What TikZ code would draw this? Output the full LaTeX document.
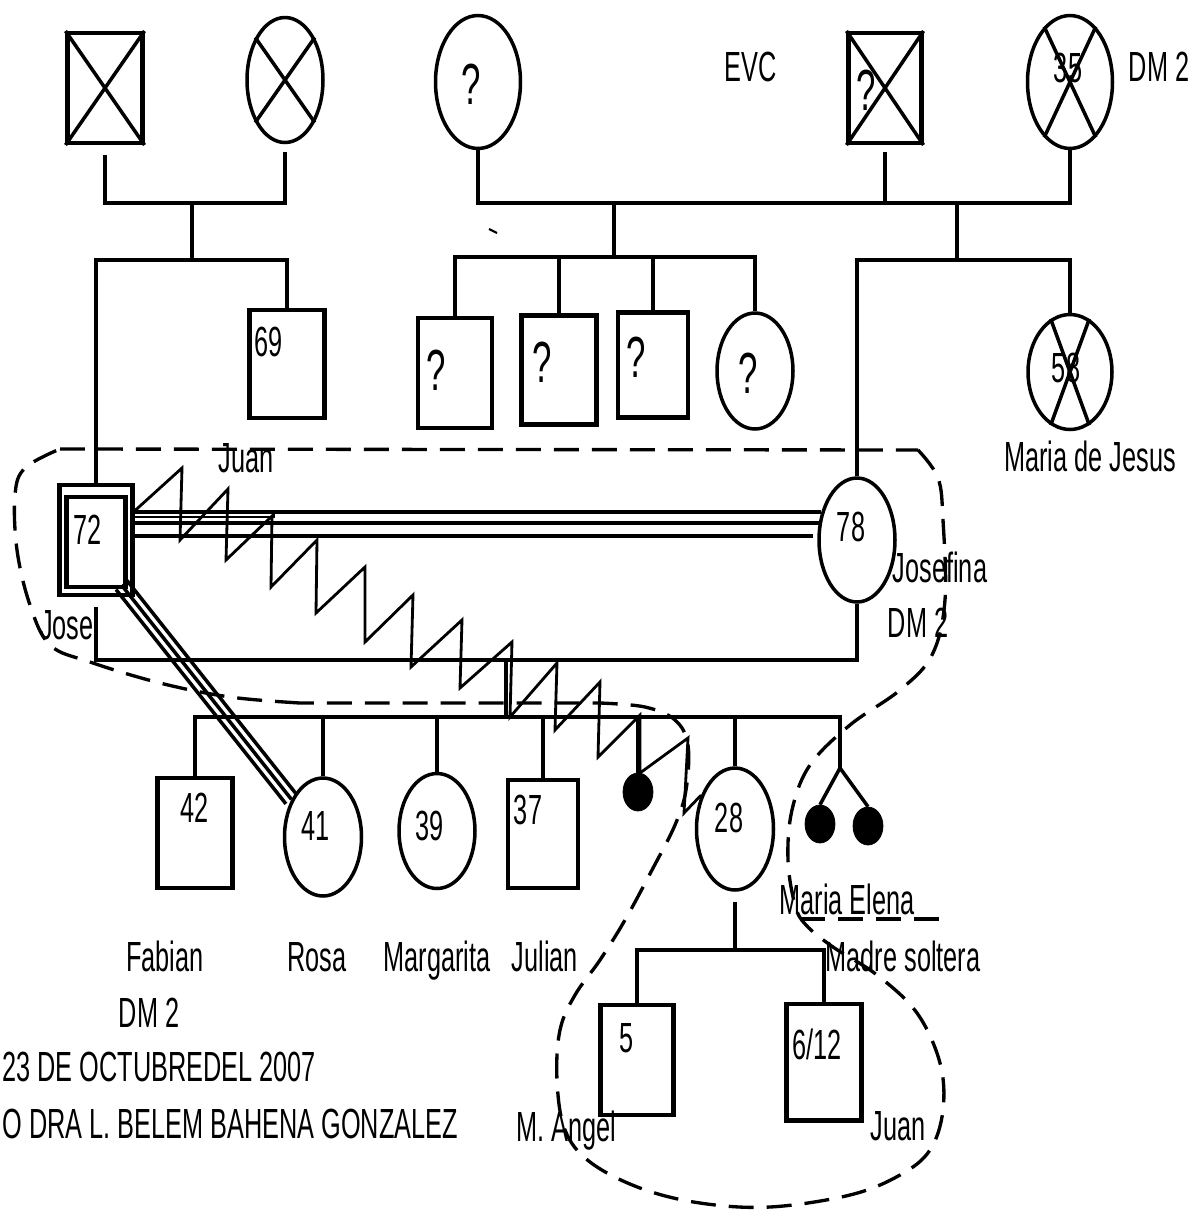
\documentclass[tikz,border=0pt]{standalone}
\usepackage{fontspec}
\setmainfont{Liberation Sans}[FakeStretch=0.6]
\usetikzlibrary{shapes.geometric}

\tikzset{
  male/.style={draw, rectangle, line width=2.3pt, inner sep=0pt},
  female/.style={draw, ellipse, line width=2pt, inner sep=0pt},
  lost/.style={draw, ellipse, fill=black, inner sep=0pt, minimum width=0.6cm, minimum height=0.76cm},
  rel/.style={line width=2pt},
  lbl/.style={font=\fontsize{24}{28}\selectfont, inner sep=0pt, text height=17pt, text depth=0pt},
  unk/.style={font=\fontsize{33}{38}\selectfont, inner sep=0pt, text height=23pt, text depth=0pt},
  home/.style={line width=1.9pt, dash pattern=on 0.5cm off 0.26cm}
}

\begin{document}
\begin{tikzpicture}[x=0.02cm, y=-0.02cm]
                \useasboundingbox (0,0) rectangle (1195,1218);
                \fill[white] (0,0) rectangle (1195,1218);

                % Grandparents
                \node[male, minimum width=1.5cm, minimum height=2.2cm] (pgf) at (105,88) {};
                \node[female, minimum width=1.52cm, minimum height=2.5cm] (pgm) at (285,80) {};
                \node[female, minimum width=1.7cm, minimum height=2.66cm] (mgm) at (478,82) {};
                \node[male, minimum width=1.46cm, minimum height=2.2cm] (mgf) at (885,88) {};
                \node[female, minimum width=1.7cm, minimum height=2.66cm] (ggm) at (1070,82) {};
                \draw[rel] (pgf.north west) -- (pgf.south east) (pgf.north east) -- (pgf.south west);
                \draw[rel] (pgm.125) -- (pgm.-55) (pgm.55) -- (pgm.-125);
                \draw[rel] (mgf.north west) -- (mgf.south east) (mgf.north east) -- (mgf.south west);
                \draw[rel] (ggm.115) -- (ggm.-65) (ggm.65) -- (ggm.-115);
                \node[unk] (q-mgm) at (471,84) {?};
                \node[unk] (q-mgf) at (866,90) {?};
                \node[lbl] (age-ggm) at (1068,68) {35};
                \node[lbl] (evc) at (751,67) {EVC};
                \node[lbl] (dm-ggm) at (1159,67) {DM 2};

                % Parents generation
                \node[male, minimum width=1.5cm, minimum height=2.16cm] (uncle) at (287,364) {};
                \node[male, minimum width=1.48cm, minimum height=2.2cm] (q1) at (455,373) {};
                \node[male, minimum width=1.5cm, minimum height=2.18cm] (q2) at (559,370) {};
                \node[male, minimum width=1.4cm, minimum height=2.1cm] (q3) at (653,365) {};
                \node[female, minimum width=1.52cm, minimum height=2.32cm] (q4) at (755,371) {};
                \node[female, minimum width=1.68cm, minimum height=2.3cm] (mdj) at (1070,372) {};
                \draw[rel] (mdj.110) -- (mdj.-70) (mdj.70) -- (mdj.-110);
                \node[lbl] (age-uncle) at (269,342) {69};
                \node[lbl] (n-uncle) at (246,458) {Juan};
                \node[unk] (q-q1) at (436,370) {?};
                \node[unk] (q-q2) at (542,362) {?};
                \node[unk] (q-q3) at (636,357) {?};
                \node[unk] (q-q4) at (748,373) {?};
                \node[lbl] (age-mdj) at (1066,368) {58};
                \node[lbl] (n-mdj) at (1090,457) {Maria de Jesus};

                % Jose and Josefina
                \node[male, minimum width=1.46cm, minimum height=2.2cm] (jose) at (96,540) {};
                \node[male, minimum width=1.18cm, minimum height=1.8cm] (josein) at (96,542) {};
                \node[female, minimum width=1.52cm, minimum height=2.48cm] (josefina) at (857,540) {};
                \node[lbl] (age-jose) at (88,530) {72};
                \node[lbl] (n-jose) at (67,625) {Jose};
                \node[lbl] (age-josefina) at (851,527) {78};
                \node[lbl] (n-josefina) at (940,568) {Josefina};
                \node[lbl] (dm-josefina) at (918,623) {DM 2};

                % Children
                \node[male, minimum width=1.5cm, minimum height=2.2cm] (fabian) at (195,833) {};
                \node[female, minimum width=1.54cm, minimum height=2.36cm] (rosa) at (323,837) {};
                \node[female, minimum width=1.52cm, minimum height=2.3cm] (margarita) at (437,831) {};
                \node[male, minimum width=1.4cm, minimum height=2.16cm] (julian) at (543,834) {};
                \node[lost] (baby) at (638,792) {};
                \node[female, minimum width=1.54cm, minimum height=2.44cm] (mariaelena) at (735,829) {};
                \node[lost] (twinA) at (820,824) {};
                \node[lost] (twinB) at (868,826) {};
                \node[lbl] (age-fabian) at (195,808) {42};
                \node[lbl] (age-rosa) at (316,826) {41};
                \node[lbl] (age-margarita) at (430,826) {39};
                \node[lbl] (age-julian) at (528,810) {37};
                \node[lbl] (age-mariaelena) at (729,818) {28};
                \node[lbl] (n-fabian) at (165,957) {Fabian};
                \node[lbl] (dm-fabian) at (149,1013) {DM 2};
                \node[lbl] (n-rosa) at (317,957) {Rosa};
                \node[lbl] (n-margarita) at (437,957) {Margarita};
                \node[lbl] (n-julian) at (545,957) {Julian};
                \node[lbl] (n-mariaelena) at (847,900) {Maria Elena};
                \node[lbl] (n-soltera) at (903,957) {Madre soltera};

                % Grandchildren
                \node[male, minimum width=1.46cm, minimum height=2.2cm] (mangel) at (637,1060) {};
                \node[male, minimum width=1.5cm, minimum height=2.34cm] (juanjr) at (824,1062) {};
                \node[lbl] (age-mangel) at (627,1038) {5};
                \node[lbl] (age-juanjr) at (817,1045) {6/12};
                \node[lbl] (n-mangel) at (566,1127) {M. Angel};
                \node[lbl] (n-juanjr) at (898,1126) {Juan};

                % Date and author
                \node[lbl, anchor=west] (date) at (2,1067) {23 DE OCTUBREDEL 2007};
                \node[lbl, anchor=west] (author) at (2,1124) {O DRA L. BELEM BAHENA GONZALEZ};

                % Junctions
                \coordinate (m1) at (192,203);
                \coordinate (s1) at (192,260);
                \coordinate (m2) at (614,203);
                \coordinate (s2) at (614,257);
                \coordinate (m3) at (957,203);
                \coordinate (s3) at (957,260);
                \coordinate (m4) at (506,660);
                \coordinate (s4) at (506,717);
                \coordinate (tw) at (840,768);
                \coordinate (m5) at (735,950);

                % Family lines
                \draw[rel] ([yshift=-0.2cm]pgf.south) |- (m1) -| ([yshift=-0.16cm]pgm.south);
                \draw[rel] (m1) -- (s1);
                \draw[rel] (jose.north) |- (s1) -| (uncle.north);
                \draw[rel] (mgm.south) |- (m3) -| (ggm.south);
                \draw[rel] ([yshift=-0.14cm]mgf.south) -- (mgf.south |- m3);
                \draw[rel] (m2) -- (s2);
                \draw[rel] (q1.north) |- (s2) -| (q4.north);
                \draw[rel] (q2.north) -- (q2.north |- s2);
                \draw[rel] (q3.north) -- (q3.north |- s2);
                \draw[rel] (m3) -- (s3);
                \draw[rel] (josefina.north) |- (s3) -| (mdj.north);
                \draw[rel] ([yshift=-0.2cm]jose.south) |- (m4) -| (josefina.south);
                \draw[rel] (m4) -- (s4);
                \draw[rel] (fabian.north) |- (s4) -| (tw);
                \draw[rel] (rosa.north) -- (rosa.north |- s4);
                \draw[rel] (margarita.north) -- (margarita.north |- s4);
                \draw[rel] (julian.north) -- (julian.north |- s4);
                \draw[rel] (baby.north) -- (baby.north |- s4);
                \draw[rel] (mariaelena.north) -- (mariaelena.north |- s4);
                \draw[rel] (tw) -- (twinA.north) (tw) -- (twinB.north);
                \draw[rel] ([yshift=-0.2cm]mariaelena.south) -- (m5);
                \draw[rel] (mangel.north) |- (m5) -| (juanjr.north);
                \draw[line width=1.2pt] (489,229) -- (497,233);

                % Fused relations
                \draw[rel] ([yshift=0.56cm]jose.east) -- ([shift={(0.08cm,0.56cm)}]josefina.west);
                \draw[rel] ([yshift=0.34cm]jose.east) -- ([shift={(0.03cm,0.34cm)}]josefina.west);
                \draw[rel] ([yshift=0.08cm]jose.east) -- ([shift={(-0.08cm,0.08cm)}]josefina.west);
                \draw[line width=1.4pt] ([yshift=0.46cm]jose.east) -- ++(139,0) -- ++(0,-5);
                \draw[rel] ([shift={(-0.15cm,0.33cm)}]jose.south east) -- ([shift={(0.11cm,0.09cm)}]rosa.130);
                \draw[rel] ([shift={(-0.26cm,0.24cm)}]jose.south east) -- (rosa.130);
                \draw[rel] ([shift={(-0.37cm,0.15cm)}]jose.south east) -- ([shift={(-0.11cm,-0.09cm)}]rosa.130);

                % Hostile relation
                \draw[line width=1.6pt] ([yshift=0.58cm]jose.east) -- (182,468) -- (180,540) -- (228,489)
                    -- (226,560) -- (272,516) -- (271,587) -- (317,540) -- (316,613) -- (365,567)
                    -- (365,642) -- (413,595) -- (411,667) -- (462,620) -- (460,688) -- (512,642)
                    -- (510,717) -- (557,663) -- (555,730) -- (600,682) -- (598,757) -- (640,715)
                    -- (640,773) -- (688,738) -- (684,813) -- (mariaelena.135);

                % Household boundary
                \draw[home] (60,449) -- (918,450)
                    plot[smooth, tension=0.6] coordinates {(918,450) (938,478) (943,520) (945,600) (932,655)
                    (900,690) (850,725) (810,765) (792,810) (788,860) (795,905) (806,925) (833,947)
                    (877,975) (917,1013) (940,1063) (943,1110) (930,1150) (900,1175) (850,1195)
                    (770,1207) (700,1203) (640,1188) (590,1162) (565,1130) (557,1080) (560,1030)
                    (575,995) (600,960) (625,920) (652,870) (675,825) (686,790) (688,745) (675,720)
                    (645,707) (600,703)}
                    -- (300,703)
                    plot[smooth, tension=0.6] coordinates {(300,703) (230,697) (160,683) (90,662)
                    (50,645) (30,605) (17,550) (15,495) (25,468) (60,449)};
                \draw[home] (800,919) -- (943,919);
\end{tikzpicture}
\end{document}
